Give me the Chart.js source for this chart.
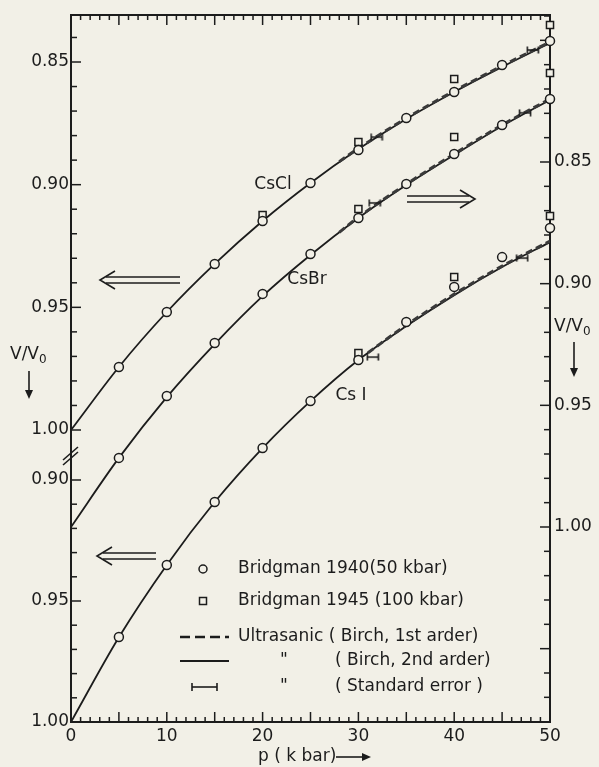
<!DOCTYPE html>
<html>
<head>
<meta charset="utf-8">
<script src="https://cdn.jsdelivr.net/npm/chart.js@4.4.1/dist/chart.umd.min.js"></script>
<style>
  html, body { margin: 0; padding: 0; background: #f2f0e7; }
  canvas { display: block; }
</style>
</head>
<body>
<canvas id="vChart" width="599" height="767"></canvas>
<script>
// pressure (kbar) for the Birch 2nd order curves
const pressure = [0, 5, 10, 15, 20, 25, 30, 35, 40, 45, 50];
const csclBirch2 = [1.0000, 0.9743, 0.9519, 0.9323, 0.9148, 0.8993, 0.8855, 0.8732, 0.8622, 0.8520, 0.8423];
const csbrBirch2 = [1.0000, 0.9716, 0.9466, 0.9248, 0.9051, 0.8882, 0.8730, 0.8595, 0.8471, 0.8352, 0.8245];
const csiBirch2  = [1.0000, 0.9650, 0.9351, 0.9091, 0.8868, 0.8674, 0.8504, 0.8364, 0.8236, 0.8120, 0.8017];

// Birch 1st order (dashed), only drawn at high pressure
const csclBirch1P = [28, 30, 35, 40, 45, 50];
const csclBirch1  = [0.8906, 0.8852, 0.8729, 0.8618, 0.8516, 0.8418];
const csbrBirch1P = [28, 30, 35, 40, 45, 50];
const csbrBirch1  = [0.8789, 0.8727, 0.8591, 0.8467, 0.8348, 0.8241];
const csiBirch1P  = [31, 35, 40, 45, 50];
const csiBirch1   = [0.8474, 0.8360, 0.8232, 0.8116, 0.8013];

// Bridgman 1940 (circles)
const bridgmanP = [5, 10, 15, 20, 25, 30, 35, 40, 45, 50];
const cscl1940 = [0.9743, 0.9519, 0.9323, 0.9148, 0.8993, 0.8859, 0.8728, 0.8622, 0.8512, 0.8414];
const csbr1940 = [0.9716, 0.9462, 0.9244, 0.9042, 0.8878, 0.8730, 0.8590, 0.8467, 0.8348, 0.8241];
const csi1940  = [0.9649, 0.9351, 0.9091, 0.8868, 0.8674, 0.8504, 0.8347, 0.8202, 0.8079, 0.7959];

// Bridgman 1945 (squares)
const cscl1945P = [20, 30, 40, 50];
const cscl1945  = [0.9124, 0.8826, 0.8569, 0.8349];
const csbr1945P = [30, 40, 50];
const csbr1945  = [0.8693, 0.8397, 0.8134];
const csi1945P  = [30, 40, 50];
const csi1945   = [0.8475, 0.8161, 0.7909];

// standard error marks
const csclErrP = [31.9, 48.2];
const csclErr  = [0.8806, 0.8451];
const csbrErrP = [31.7, 47.4];
const csbrErr  = [0.8668, 0.8298];
const csiErrP  = [31.5, 47.1];
const csiErr   = [0.8492, 0.8083];

// tick labels
const xTickLabels = ['0', '10', '20', '30', '40', '50'];
const leftUpperLabels = ['0.85', '0.90', '0.95', '1.00'];
const leftLowerLabels = ['0.90', '0.95', '1.00'];
const rightLabels = ['0.85', '0.90', '0.95', '1.00'];

const paper = '#f2f0e7';
const ink = '#1c1c1c';
const FONT = '"DejaVu Sans", sans-serif';

const pts = (xs, ys) => xs.map((x, i) => ({ x: x, y: ys[i] }));

// little |-| glyph for the standard error
const errGlyph = document.createElement('canvas');
errGlyph.width = 14; errGlyph.height = 8;
(function () {
    const c = errGlyph.getContext('2d');
    c.strokeStyle = ink; c.lineWidth = 1.6;
    c.beginPath();
    c.moveTo(1, 4); c.lineTo(13, 4);
    c.moveTo(1.5, 0.5); c.lineTo(1.5, 7.5);
    c.moveTo(12.5, 0.5); c.lineTo(12.5, 7.5);
    c.stroke();
})();

function solid(data, axis) {
    return { type: 'line', data: data, yAxisID: axis, borderColor: ink, borderWidth: 1.8,
             pointRadius: 0, cubicInterpolationMode: 'monotone', fill: false, order: 3 };
}
function dashed(data, axis) {
    return { type: 'line', data: data, yAxisID: axis, borderColor: '#3a3a3a', borderWidth: 3,
             borderDash: [7, 4], pointRadius: 0, cubicInterpolationMode: 'monotone', fill: false, order: 2 };
}
function marks(data, axis, style, r) {
    return { type: 'scatter', data: data, yAxisID: axis, showLine: false, pointStyle: style,
             pointRadius: r, borderColor: ink, borderWidth: 1.5, backgroundColor: paper,
             clip: false, order: 1 };
}
function errs(data, axis) {
    return { type: 'scatter', data: data, yAxisID: axis, showLine: false, pointStyle: errGlyph,
             pointRadius: 7, clip: false, order: 0 };
}

function line(ctx, x1, y1, x2, y2) {
    ctx.beginPath(); ctx.moveTo(x1, y1); ctx.lineTo(x2, y2); ctx.stroke();
}

function doubleArrow(ctx, tipX, y, tailX) {
    const dir = tailX > tipX ? 1 : -1;
    ctx.lineWidth = 1.6;
    line(ctx, tipX + dir * 6, y - 3, tailX, y - 3);
    line(ctx, tipX + dir * 6, y + 3, tailX, y + 3);
    ctx.beginPath();
    ctx.moveTo(tipX + dir * 15, y - 9);
    ctx.lineTo(tipX, y);
    ctx.lineTo(tipX + dir * 15, y + 9);
    ctx.stroke();
}

function vOverV0(ctx, x, y) {
    ctx.font = '17px ' + FONT;
    ctx.textAlign = 'left';
    ctx.fillText('V/V', x, y);
    const w = ctx.measureText('V/V').width;
    ctx.font = '12px ' + FONT;
    ctx.fillText('0', x + w, y + 5);
}

const axesPlugin = {
    id: 'axesPlugin',
    beforeDraw(chart) {
        const ctx = chart.ctx;
        ctx.save();
        ctx.fillStyle = paper;
        ctx.fillRect(0, 0, chart.width, chart.height);
        ctx.restore();
    },
    beforeDatasetsDraw(chart) {
        const { ctx, chartArea: a, scales } = chart;
        ctx.save();
        ctx.strokeStyle = ink;
        ctx.lineWidth = 2;
        ctx.strokeRect(a.left, a.top, a.right - a.left, a.bottom - a.top);
        ctx.lineWidth = 1.5;

        // top and bottom ticks, every kbar
        for (let p = 0; p <= 50; p++) {
            const x = scales.x.getPixelForValue(p);
            const len = p % 5 === 0 ? 10 : 5;
            line(ctx, x, a.top, x, a.top + len);
            line(ctx, x, a.bottom, x, a.bottom - len);
        }
        // left upper part (CsCl)
        for (let k = 84; k <= 100; k++) {
            const y = scales.yCl.getPixelForValue(k / 100);
            line(ctx, a.left, y, a.left + (k % 5 === 0 ? 10 : 6), y);
        }
        // left lower part (CsI)
        for (let k = 90; k <= 99; k++) {
            const y = scales.yI.getPixelForValue(k / 100);
            line(ctx, a.left, y, a.left + (k % 5 === 0 ? 10 : 6), y);
        }
        // right axis (CsBr)
        for (let k = 79; k <= 107; k++) {
            const y = scales.yBr.getPixelForValue(k / 100);
            line(ctx, a.right, y, a.right - (k % 5 === 0 ? 10 : 6), y);
        }
        // axis break
        ctx.lineWidth = 1.6;
        const yb = (scales.yCl.getPixelForValue(1.0) + scales.yI.getPixelForValue(0.90)) / 2;
        line(ctx, a.left - 8, yb + 5, a.left + 7, yb - 8);
        line(ctx, a.left - 8, yb + 10, a.left + 7, yb - 3);
        ctx.restore();
    },
    afterDraw(chart) {
        const { ctx, chartArea: a, scales } = chart;
        ctx.save();
        ctx.fillStyle = ink;
        ctx.strokeStyle = ink;
        ctx.textBaseline = 'middle';
        ctx.font = '17px ' + FONT;

        // x tick labels
        ctx.textAlign = 'center';
        xTickLabels.forEach(t => {
            ctx.fillText(t, scales.x.getPixelForValue(+t), a.bottom + 15);
        });
        // left labels
        ctx.textAlign = 'right';
        leftUpperLabels.forEach(t => ctx.fillText(t, a.left - 2, scales.yCl.getPixelForValue(+t)));
        leftLowerLabels.forEach(t => ctx.fillText(t, a.left - 2, scales.yI.getPixelForValue(+t)));
        // right labels
        ctx.textAlign = 'left';
        rightLabels.forEach(t => ctx.fillText(t, a.right + 4, scales.yBr.getPixelForValue(+t)));

        // axis titles
        vOverV0(ctx, 10, 355);
        vOverV0(ctx, 554, 327);
        ctx.lineWidth = 1.6;
        line(ctx, 29, 371, 29, 392);
        ctx.beginPath(); ctx.moveTo(25, 390); ctx.lineTo(29, 399); ctx.lineTo(33, 390); ctx.fill();
        line(ctx, 574, 342, 574, 370);
        ctx.beginPath(); ctx.moveTo(570, 368); ctx.lineTo(574, 377); ctx.lineTo(578, 368); ctx.fill();

        ctx.font = '17px ' + FONT;
        ctx.textAlign = 'left';
        ctx.fillText('p ( k bar)', 258, 757);
        line(ctx, 336, 757, 364, 757);
        ctx.beginPath(); ctx.moveTo(362, 753); ctx.lineTo(371, 757); ctx.lineTo(362, 761); ctx.fill();

        // arrows pointing at the axes
        doubleArrow(ctx, 100, 280, 180);
        doubleArrow(ctx, 97, 556, 156);
        doubleArrow(ctx, 475, 199, 407);

        // curve names
        ctx.textAlign = 'center';
        ctx.fillText('CsCl', 273, 185);
        ctx.fillText('CsBr', 307, 280);
        ctx.fillText('Cs I', 351, 396);

        // key
        ctx.textAlign = 'left';
        ctx.lineWidth = 1.5;
        ctx.fillStyle = paper;
        ctx.beginPath(); ctx.arc(203, 569, 4, 0, Math.PI * 2); ctx.fill(); ctx.stroke();
        ctx.fillRect(199.5, 597.5, 7, 7); ctx.strokeRect(199.5, 597.5, 7, 7);
        ctx.fillStyle = ink;
        ctx.fillText('Bridgman 1940(50 kbar)', 238, 569);
        ctx.fillText('Bridgman 1945 (100 kbar)', 238, 601);

        ctx.lineWidth = 2.5;
        ctx.setLineDash([10, 5]);
        line(ctx, 180, 637, 229, 637);
        ctx.setLineDash([]);
        ctx.lineWidth = 2;
        line(ctx, 180, 661, 229, 661);
        ctx.lineWidth = 1.6;
        line(ctx, 192, 687, 217, 687);
        line(ctx, 192, 683, 192, 691);
        line(ctx, 217, 683, 217, 691);

        ctx.fillText('Ultrasanic ( Birch, 1st arder)', 238, 637);
        ctx.fillText('"', 280, 661);
        ctx.fillText('( Birch, 2nd arder)', 335, 661);
        ctx.fillText('"', 280, 687);
        ctx.fillText('( Standard error )', 335, 687);
        ctx.restore();
    }
};

new Chart(document.getElementById('vChart'), {
    data: {
        datasets: [
            errs(pts(csclErrP, csclErr), 'yCl'),
            errs(pts(csbrErrP, csbrErr), 'yBr'),
            errs(pts(csiErrP, csiErr), 'yI'),
            marks(pts(bridgmanP, cscl1940), 'yCl', 'circle', 4.5),
            marks(pts(bridgmanP, csbr1940), 'yBr', 'circle', 4.5),
            marks(pts(bridgmanP, csi1940), 'yI', 'circle', 4.5),
            marks(pts(cscl1945P, cscl1945), 'yCl', 'rect', 5),
            marks(pts(csbr1945P, csbr1945), 'yBr', 'rect', 5),
            marks(pts(csi1945P, csi1945), 'yI', 'rect', 5),
            dashed(pts(csclBirch1P, csclBirch1), 'yCl'),
            dashed(pts(csbrBirch1P, csbrBirch1), 'yBr'),
            dashed(pts(csiBirch1P, csiBirch1), 'yI'),
            solid(pts(pressure, csclBirch2), 'yCl'),
            solid(pts(pressure, csbrBirch2), 'yBr'),
            solid(pts(pressure, csiBirch2), 'yI')
        ]
    },
    options: {
        responsive: false,
        animation: false,
        layout: { padding: { left: 71, right: 49, top: 15, bottom: 45 } },
        plugins: { legend: { display: false }, tooltip: { enabled: false } },
        scales: {
            x: { type: 'linear', min: 0, max: 50, display: false },
            // each compound has its own V/V0 scale, reversed (compression goes up)
            yCl: { type: 'linear', reverse: true, min: 0.83084, max: 1.11902, display: false },
            yBr: { type: 'linear', reverse: true, min: 0.78959, max: 1.08014, display: false },
            yI:  { type: 'linear', reverse: true, min: 0.70785, max: 1.00, display: false }
        }
    },
    plugins: [axesPlugin]
});
</script>
</body>
</html>
